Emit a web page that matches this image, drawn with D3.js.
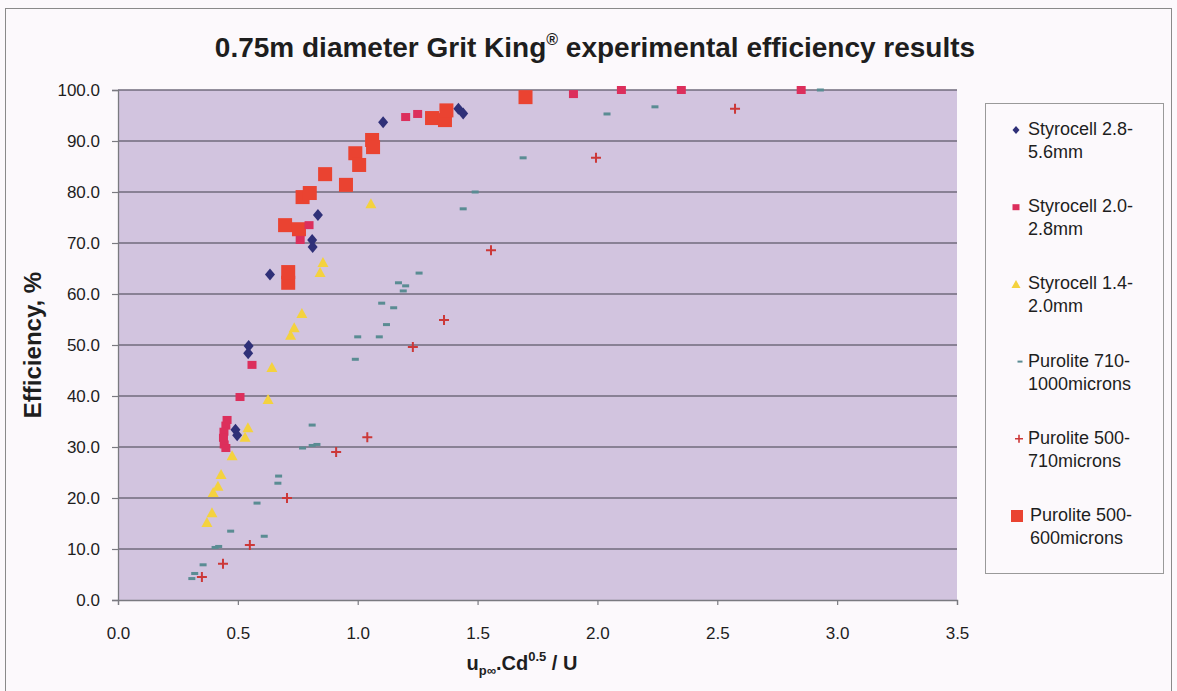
<!DOCTYPE html>
<html>
<head>
<meta charset="utf-8">
<script src="https://cdn.jsdelivr.net/npm/d3@7"></script>
<style>
  html, body { margin: 0; padding: 0; background: #fcf9fc; }
  svg { display: block; }
  text { font-family: Arial, "Liberation Sans", sans-serif; fill: #1e1e1e; }
</style>
</head>
<body>
<svg id="chart" width="1177" height="691"></svg>
<script>
// Series names (legend text, two lines each)
const seriesNames = [
  ["Styrocell 2.8-", "5.6mm"],
  ["Styrocell 2.0-", "2.8mm"],
  ["Styrocell 1.4-", "2.0mm"],
  ["Purolite 710-", "1000microns"],
  ["Purolite 500-", "710microns"],
  ["Purolite 500-", "600microns"]
];

// Measured points: [up∞.Cd^0.5 / U, efficiency %]
const styro28_56 = [
  [0.490, 33.4], [0.497, 32.3], [0.545, 49.8], [0.543, 48.4], [0.634, 63.8],
  [0.810, 70.6], [0.812, 69.2], [0.834, 75.5], [1.106, 93.7], [1.420, 96.3], [1.440, 95.4]
];
const styro20_28 = [
  [0.455, 35.3], [0.450, 34.2], [0.442, 33.0], [0.440, 31.8], [0.443, 30.5], [0.450, 29.8],
  [0.509, 39.8], [0.559, 46.1], [0.760, 70.6], [0.797, 73.5], [1.200, 94.7], [1.250, 95.3],
  [1.900, 99.2], [2.100, 100.0], [2.350, 100.0], [2.850, 100.0]
];
const styro14_20 = [
  [0.371, 15.1], [0.392, 17.0], [0.397, 21.0], [0.417, 22.2], [0.430, 24.5], [0.476, 28.2],
  [0.530, 31.8], [0.542, 33.7], [0.626, 39.2], [0.642, 45.5], [0.720, 51.8], [0.735, 53.3],
  [0.767, 56.1], [0.843, 64.1], [0.855, 66.1], [1.055, 77.6]
];
const puro710_1000 = [
  [0.308, 4.2], [0.320, 5.2], [0.355, 6.9], [0.405, 10.3], [0.420, 10.5], [0.470, 13.5],
  [0.610, 12.5], [0.580, 19.0], [0.667, 22.9], [0.670, 24.3], [0.770, 29.8], [0.810, 30.3],
  [0.830, 30.5], [0.810, 34.3], [0.990, 47.2], [1.000, 51.6], [1.090, 51.6], [1.120, 54.0],
  [1.100, 58.2], [1.150, 57.3], [1.170, 62.2], [1.200, 61.6], [1.190, 60.6], [1.256, 64.1],
  [1.440, 76.7], [1.490, 80.0], [1.690, 86.7], [2.040, 95.3], [2.240, 96.7], [2.930, 100.0]
];
const puro500_710 = [
  [0.350, 4.5], [0.438, 7.1], [0.550, 10.8], [0.705, 20.0], [0.910, 29.0], [1.040, 31.9],
  [1.230, 49.6], [1.360, 54.9], [1.556, 68.6], [1.994, 86.7], [2.574, 96.3]
];
const puro500_600 = [
  [0.710, 62.2], [0.710, 64.3], [0.697, 73.5], [0.755, 72.7], [0.770, 79.0], [0.800, 79.8],
  [0.864, 83.5], [0.951, 81.4], [0.990, 87.6], [1.006, 85.3], [1.060, 90.2], [1.064, 88.8],
  [1.310, 94.5], [1.364, 94.1], [1.370, 96.0], [1.700, 98.6]
];

const xTicks = [0, 0.5, 1.0, 1.5, 2.0, 2.5, 3.0, 3.5];
const yTicks = [0, 10, 20, 30, 40, 50, 60, 70, 80, 90, 100];

const svg = d3.select("#chart");

// Outer chart frame
svg.append("rect")
  .attr("x", 5.5).attr("y", 8.5).attr("width", 1166).attr("height", 690)
  .attr("fill", "#fcf9fc").attr("stroke", "#8a8a8a").attr("stroke-width", 1);

const plot = { left: 118, right: 957, top: 90, bottom: 600 };
const x = d3.scaleLinear().domain([0, 3.5]).range([plot.left, plot.right]);
const y = d3.scaleLinear().domain([0, 100]).range([plot.bottom, plot.top]);

// Plot area
svg.append("rect")
  .attr("x", plot.left).attr("y", plot.top)
  .attr("width", plot.right - plot.left).attr("height", plot.bottom - plot.top)
  .attr("fill", "#d2c4df");

// Horizontal gridlines
svg.append("g").selectAll("line")
  .data(yTicks.filter(d => d > 0))
  .join("line")
  .attr("x1", plot.left).attr("x2", plot.right)
  .attr("y1", d => y(d)).attr("y2", d => y(d))
  .attr("stroke", "#716b7c").attr("stroke-width", 1.4);

// Axes
const yAxis = svg.append("g")
  .attr("transform", `translate(${plot.left},0)`)
  .call(d3.axisLeft(y).tickValues(yTicks).tickFormat(d3.format(".1f")).tickSize(6).tickPadding(12));
const xAxis = svg.append("g")
  .attr("transform", `translate(0,${plot.bottom})`)
  .call(d3.axisBottom(x).tickValues(xTicks).tickFormat(d3.format(".1f")).tickSize(5).tickPadding(22));
[yAxis, xAxis].forEach(a => {
  a.selectAll("path").attr("stroke", "#7a7a80").attr("stroke-width", 1.3);
  a.selectAll("line").attr("stroke", "#7a7a80").attr("stroke-width", 1.2);
  a.selectAll("text").attr("font-size", 17).attr("fill", "#222")
    .style("font-family", "Arial, 'Liberation Sans', sans-serif");
});

// Marker painters
const markers = [
  // navy diamond
  (g, px, py) => g.append("path")
    .attr("d", `M${px},${py - 6}L${px + 5},${py}L${px},${py + 6}L${px - 5},${py}Z`)
    .attr("fill", "#2f3078"),
  // small crimson square
  (g, px, py) => g.append("rect")
    .attr("x", px - 4.5).attr("y", py - 4).attr("width", 9).attr("height", 8)
    .attr("fill", "#dc2f5c"),
  // yellow triangle
  (g, px, py) => g.append("path")
    .attr("d", `M${px},${py - 6}L${px + 5.5},${py + 4}L${px - 5.5},${py + 4}Z`)
    .attr("fill", "#f4d23e"),
  // teal dash
  (g, px, py) => g.append("rect")
    .attr("x", px - 3.5).attr("y", py - 1.5).attr("width", 7).attr("height", 3)
    .attr("fill", "#5a8c93"),
  // red plus
  (g, px, py) => g.append("path")
    .attr("d", `M${px - 5},${py}H${px + 5}M${px},${py - 5}V${py + 5}`)
    .attr("stroke", "#cc3838").attr("stroke-width", 2).attr("fill", "none"),
  // large orange-red square
  (g, px, py) => g.append("rect")
    .attr("x", px - 7).attr("y", py - 7).attr("width", 14).attr("height", 14)
    .attr("fill", "#ea4331")
];

const allSeries = [styro28_56, styro20_28, styro14_20, puro710_1000, puro500_710, puro500_600];

// Draw in an order that keeps the small marks visible over the big squares
const drawOrder = [5, 3, 4, 2, 1, 0];
const pts = svg.append("g");
drawOrder.forEach(i => {
  const g = pts.append("g").attr("class", "series-" + i);
  allSeries[i].forEach(([dx, dy]) => markers[i](g, x(dx), y(dy)));
});

// Title
const title = svg.append("text")
  .attr("x", 595).attr("y", 57)
  .attr("text-anchor", "middle")
  .attr("font-size", 28).attr("font-weight", "bold");
title.append("tspan").text("0.75m diameter Grit King");
title.append("tspan").attr("font-size", 16).attr("dy", -12).text("®");
title.append("tspan").attr("dy", 12).text(" experimental efficiency results");

// Y-axis title
svg.append("text")
  .attr("transform", `translate(41,${(plot.top + plot.bottom) / 2}) rotate(-90)`)
  .attr("text-anchor", "middle")
  .attr("font-size", 24).attr("font-weight", "bold")
  .text("Efficiency, %");

// X-axis title
const xt = svg.append("text")
  .attr("x", 522).attr("y", 670)
  .attr("text-anchor", "middle")
  .attr("font-size", 20).attr("font-weight", "bold");
xt.append("tspan").text("u");
xt.append("tspan").attr("font-size", 13).attr("dy", 5).text("p∞");
xt.append("tspan").attr("dy", -5).text(".Cd");
xt.append("tspan").attr("font-size", 13).attr("dy", -9).text("0.5");
xt.append("tspan").attr("dy", 9).text(" / U");

// Legend
const legend = svg.append("g");
legend.append("rect")
  .attr("x", 985.5).attr("y", 103.5).attr("width", 178).attr("height", 470)
  .attr("fill", "#fcf9fc").attr("stroke", "#9a9a9a").attr("stroke-width", 1);

const legendMarks = [
  (g, px, py) => g.append("path").attr("d", `M${px},${py - 4}L${px + 3.5},${py}L${px},${py + 4}L${px - 3.5},${py}Z`).attr("fill", "#2f3078"),
  (g, px, py) => g.append("rect").attr("x", px - 3.5).attr("y", py - 3).attr("width", 7).attr("height", 6).attr("fill", "#dc2f5c"),
  (g, px, py) => g.append("path").attr("d", `M${px},${py - 4.5}L${px + 4.5},${py + 3.5}L${px - 4.5},${py + 3.5}Z`).attr("fill", "#f4d23e"),
  (g, px, py) => g.append("rect").attr("x", px - 2.5).attr("y", py - 1).attr("width", 5).attr("height", 2).attr("fill", "#5a8c93"),
  (g, px, py) => g.append("path").attr("d", `M${px - 4},${py}H${px + 4}M${px},${py - 4}V${py + 4}`).attr("stroke", "#cc3838").attr("stroke-width", 1.6),
  (g, px, py) => g.append("rect").attr("x", px - 6).attr("y", py - 6).attr("width", 12).attr("height", 12).attr("fill", "#ea4331")
];
const legendMarkerX = [1016, 1016, 1016, 1020, 1019, 1017];
const legendTextX = [1028, 1028, 1028, 1028, 1028, 1030];

seriesNames.forEach((lines, i) => {
  const cy = 129 + i * 77.2;
  const g = legend.append("g");
  legendMarks[i](g, legendMarkerX[i], cy + 1);
  const t = g.append("text").attr("x", legendTextX[i]).attr("y", cy + 6).attr("font-size", 18);
  t.append("tspan").attr("x", legendTextX[i]).text(lines[0]);
  t.append("tspan").attr("x", legendTextX[i]).attr("dy", 23).text(lines[1]);
});
</script>
</body>
</html>
